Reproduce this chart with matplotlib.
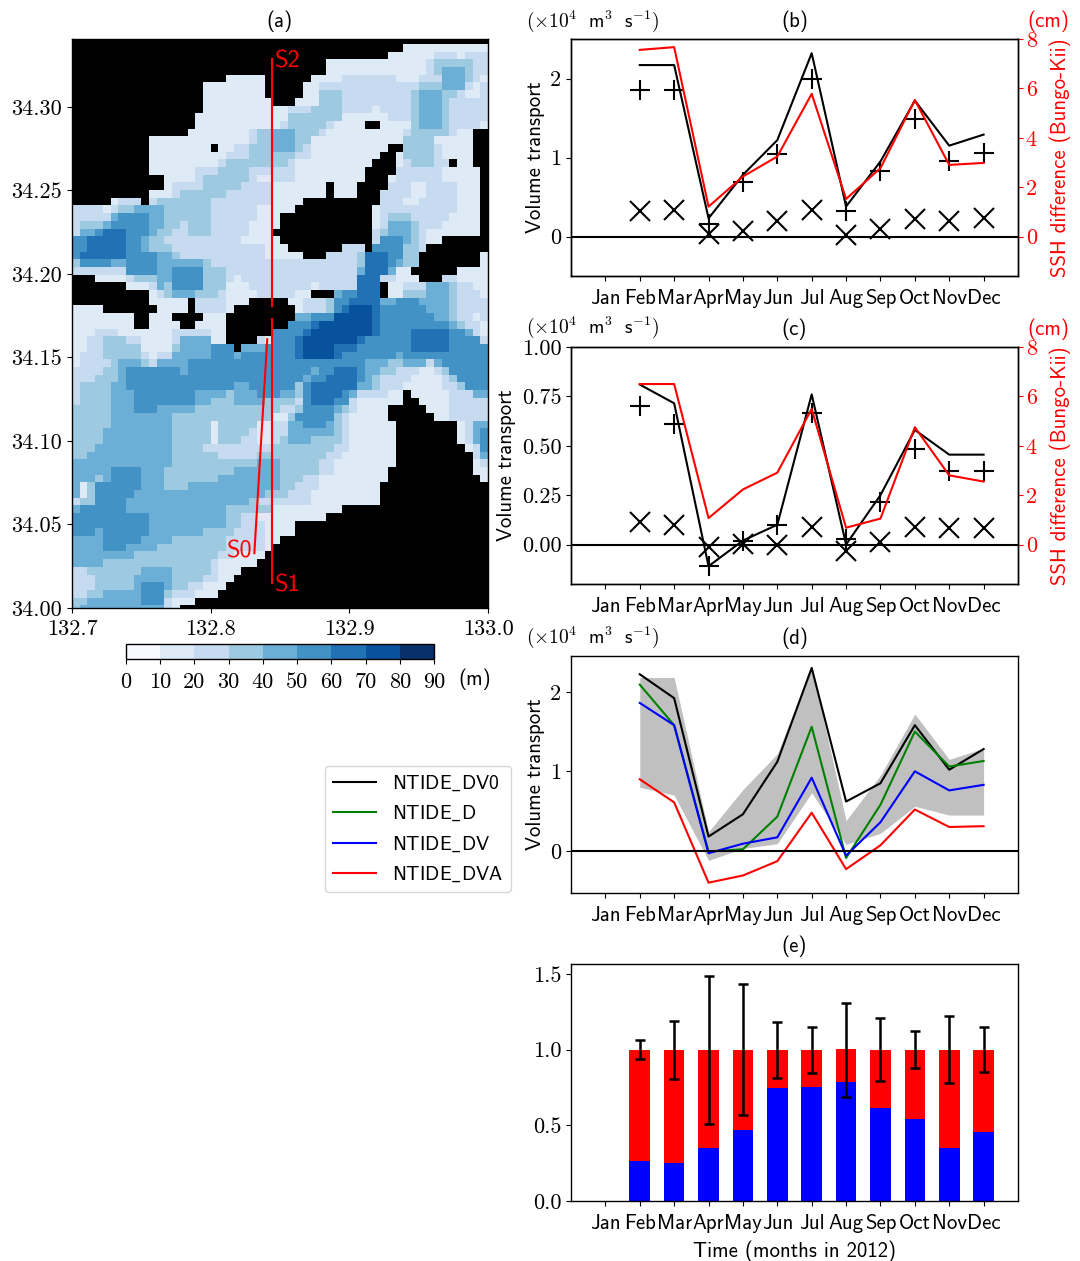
import warnings
import numpy as np
import matplotlib
matplotlib.use("Agg")
import matplotlib.pyplot as plt
from matplotlib.colors import BoundaryNorm
from matplotlib.lines import Line2D
warnings.filterwarnings("ignore")

months = ["Jan", "Feb", "Mar", "Apr", "May", "Jun", "Jul", "Aug", "Sep", "Oct", "Nov", "Dec"]
month_x = list(range(1, 13))
data_x = list(range(2, 13))

b_black = [2.17, 2.17, 0.23, 0.78, 1.22, 2.32, 0.38, 0.95, 1.72, 1.15, 1.29]
b_red = [7.56, 7.67, 1.21, 2.43, 3.24, 5.78, 1.52, 2.77, 5.53, 2.90, 2.98]
b_plus = [1.86, 1.85, 0.16, 0.69, 1.04, 2.00, 0.32, 0.83, 1.49, 0.96, 1.06]
b_cross = [0.32, 0.33, 0.03, 0.07, 0.19, 0.34, 0.02, 0.10, 0.22, 0.19, 0.23]

c_black = [0.81, 0.715, -0.11, 0.02, 0.10, 0.76, 0.0, 0.25, 0.58, 0.455, 0.455]
c_red = [6.5, 6.5, 1.07, 2.23, 2.91, 5.49, 0.68, 1.05, 4.75, 2.8, 2.55]
c_plus = [0.70, 0.61, -0.11, 0.02, 0.10, 0.665, 0.03, 0.215, 0.485, 0.37, 0.37]
c_cross = [0.115, 0.10, -0.015, 0.005, 0.0, 0.09, -0.035, 0.015, 0.09, 0.085, 0.085]

d_dv0 = [2.22, 1.92, 0.18, 0.46, 1.12, 2.30, 0.62, 0.85, 1.58, 1.02, 1.28]
d_d = [2.09, 1.58, -0.01, 0.02, 0.43, 1.56, -0.09, 0.58, 1.50, 1.06, 1.13]
d_dv = [1.86, 1.58, -0.03, 0.09, 0.17, 0.92, -0.06, 0.36, 1.00, 0.76, 0.83]
d_dva = [0.90, 0.61, -0.40, -0.31, -0.13, 0.48, -0.23, 0.07, 0.52, 0.30, 0.31]
d_upper = [2.18, 2.18, 0.24, 0.77, 1.22, 2.32, 0.38, 0.95, 1.72, 1.15, 1.29]
d_lower = [0.80, 0.70, -0.12, 0.03, 0.09, 0.73, 0.08, 0.22, 0.56, 0.45, 0.45]

e_blue = [0.265, 0.25, 0.35, 0.47, 0.745, 0.755, 0.785, 0.615, 0.545, 0.35, 0.455]
e_total = [1.0, 1.0, 1.0, 1.0, 1.0, 1.0, 1.005, 1.0, 1.0, 1.0, 1.0]
e_err_top = [1.065, 1.19, 1.49, 1.435, 1.185, 1.15, 1.31, 1.21, 1.125, 1.22, 1.15]
e_err_bot = [0.935, 0.805, 0.51, 0.565, 0.815, 0.845, 0.69, 0.79, 0.88, 0.78, 0.85]

depth_ticks = [0, 10, 20, 30, 40, 50, 60, 70, 80, 90]

# Depth class per grid row, north to south: "class:end_column"; class 0 is land, class n is n*10..n*10+10 m
bathy_rows = [
    "0:54", "0:43 1:54", "0:41 1:47 2:50 1:51 2:54", "0:33 1:46 2:47 3:52 2:54",
    "0:33 1:46 2:47 3:48 4:51 3:52 2:54",
    "0:20 1:25 0:31 1:35 2:42 1:45 2:48 4:51 3:52 2:53 1:54",
    "0:17 1:25 0:30 1:32 2:45 3:48 4:51 2:52 1:53 2:54",
    "0:17 1:25 0:30 1:32 3:35 2:44 3:45 4:48 3:50 2:51 1:53 2:54",
    "0:17 1:26 0:29 1:32 3:35 2:44 3:45 4:48 3:49 2:54",
    "0:17 1:28 2:31 3:35 2:39 1:40 2:44 3:45 4:48 3:49 2:54",
    "0:16 1:28 3:35 1:41 2:44 3:45 4:48 3:49 2:54",
    "0:16 1:27 2:28 3:33 2:34 1:38 0:40 1:44 3:45 4:48 3:49 2:53 1:54",
    "0:15 1:23 2:24 3:26 4:29 3:32 2:33 1:43 2:44 3:49 2:50 1:52 0:54",
    "0:10 1:23 2:24 3:26 4:29 3:31 1:43 3:47 1:52 0:54",
    "0:10 1:18 0:19 1:21 2:23 3:26 4:29 3:30 2:31 1:41 0:43 3:47 2:48 1:52 0:54",
    "0:10 1:20 2:23 3:29 2:31 1:40 0:42 1:43 3:47 2:48 1:52 0:54",
    "0:10 1:19 2:20 3:28 2:29 1:39 0:42 1:43 2:44 3:47 2:49 0:50 1:52 0:54",
    "0:10 1:16 2:19 3:23 2:29 1:38 0:42 2:48 1:53 0:54",
    "0:12 1:16 2:17 3:23 2:24 1:26 2:29 1:38 0:41 1:42 2:48 1:53 0:54",
    "0:12 1:13 2:17 3:22 2:26 1:33 0:34 1:37 0:41 2:44 1:46 2:50 1:53 0:54",
    "0:10 1:13 2:14 3:20 2:26 1:33 0:34 1:37 0:40 2:44 1:46 2:50 1:53 0:54",
    "0:5 1:6 2:9 0:10 2:11 3:18 2:26 1:30 0:40 2:43 1:45 2:50 1:53 0:54",
    "2:4 1:5 2:6 3:8 4:12 3:18 2:24 1:29 0:39 1:40 2:50 1:53 0:54",
    "2:5 4:6 5:10 4:12 3:18 2:24 1:27 0:39 1:40 2:41 3:44 2:49 1:53 0:54",
    "2:1 3:4 4:5 5:10 4:12 3:14 2:15 3:18 2:23 1:27 0:39 1:40 2:41 4:44 3:45 2:48 1:53 0:54",
    "2:1 4:3 5:4 6:7 5:10 4:11 3:13 2:15 3:18 2:23 1:26 0:39 2:40 3:41 4:44 3:45 2:46 1:53 0:54",
    "5:2 6:7 5:9 4:10 3:12 2:22 1:27 0:39 2:40 5:43 4:44 3:45 2:46 1:48 0:54",
    "5:2 6:7 5:9 4:10 3:13 2:25 1:28 0:35 2:38 0:39 5:43 3:45 2:46 0:54",
    "5:1 6:7 5:11 4:13 3:14 2:25 1:30 0:33 2:37 3:38 6:41 5:43 3:45 0:53 1:54",
    "3:1 5:5 4:7 5:11 4:17 3:18 2:37 3:38 6:41 5:42 4:43 3:45 0:53 1:54",
    "2:7 5:11 4:13 5:17 3:20 2:37 4:38 6:41 4:42 1:44 0:50 1:54",
    "0:3 1:7 2:8 3:11 4:13 5:17 3:20 2:21 1:22 2:37 6:40 2:42 1:45 0:48 2:50 1:54",
    "0:7 1:10 2:11 4:12 3:13 5:17 3:20 1:23 2:31 1:32 2:37 6:40 0:41 1:43 2:46 4:49 3:50 2:52 1:54",
    "0:10 1:11 2:12 3:13 4:16 3:19 2:20 1:24 2:29 1:31 0:34 4:35 5:37 6:40 0:41 1:43 3:46 4:49 3:50 2:53 1:54",
    "0:10 1:15 0:16 2:20 1:23 0:28 1:30 2:33 3:34 5:36 6:40 4:42 5:45 4:49 3:50 2:54",
    "1:4 0:11 1:15 0:16 2:20 1:21 0:29 1:30 2:33 3:34 5:35 6:36 7:39 6:40 5:46 4:49 3:50 2:54",
    "1:8 0:10 1:13 0:17 1:20 0:29 4:31 5:34 7:39 6:40 5:47 4:49 3:50 2:52 1:53 2:54",
    "1:8 0:10 1:14 0:16 1:20 0:28 5:31 6:32 7:39 6:40 5:49 4:50 3:51 2:53 1:54",
    "1:3 2:6 1:13 2:18 1:20 0:26 5:30 6:31 7:39 6:40 5:44 6:49 5:51 4:52 2:53 1:54",
    "1:2 2:4 3:7 2:9 1:13 2:14 4:18 1:20 0:24 2:25 1:26 5:29 6:30 7:37 6:38 5:44 6:49 5:53 2:54",
    "1:2 2:4 3:9 1:13 3:14 4:18 5:21 0:22 4:25 5:29 6:30 7:34 6:37 5:44 6:49 5:54",
    "1:1 2:4 3:9 2:10 1:11 2:13 4:18 5:21 4:22 5:29 6:30 7:34 6:35 5:42 4:43 5:54",
    "1:1 2:5 3:6 4:9 3:10 2:11 4:15 5:38 4:41 3:43 4:46 2:47 4:48 5:54",
    "2:4 3:6 4:7 5:14 4:15 5:31 4:32 5:34 6:37 5:38 4:40 3:42 2:45 1:47 2:48 3:49 5:54",
    "2:3 3:6 4:7 5:30 4:31 5:33 6:37 5:38 4:39 3:40 2:44 1:48 2:49 3:50 5:54",
    "2:1 3:5 4:7 5:21 4:23 5:29 3:30 5:31 6:37 4:39 3:40 2:43 1:48 2:50 3:51 5:54",
    "2:1 3:5 4:8 5:16 4:20 3:21 4:24 5:27 4:29 3:30 5:31 6:35 5:36 4:37 2:41 1:43 0:44 1:49 2:52 4:54",
    "2:1 3:5 4:8 5:16 4:18 3:21 4:25 3:29 2:30 5:31 6:34 5:36 2:37 1:43 0:45 1:49 2:54",
    "3:5 4:8 5:11 4:16 3:27 2:29 3:30 5:34 4:35 3:36 2:37 1:41 0:46 1:49 2:54",
    "3:5 4:13 3:26 1:28 3:29 5:34 3:35 2:36 1:41 0:47 1:49 2:54",
    "3:5 4:13 3:18 1:19 3:24 1:26 2:28 4:30 5:33 4:34 3:35 2:36 1:42 0:50 1:51 2:52 4:54",
    "3:4 4:13 3:18 1:19 3:23 2:24 1:26 2:28 4:34 3:35 2:36 1:42 0:50 1:51 2:52 4:53 5:54",
    "3:4 4:13 3:18 1:19 3:22 2:24 1:26 2:27 3:28 4:31 3:35 2:36 1:42 0:50 1:51 2:52 4:53 5:54",
    "3:3 4:13 3:17 2:26 3:34 2:36 1:42 0:51 1:52 2:53 5:54",
    "3:2 4:13 3:19 2:24 3:33 2:35 1:42 0:52 2:53 4:54",
    "4:13 3:24 4:27 3:32 2:34 1:42 0:52 1:53 2:54",
    "4:5 5:9 4:12 3:21 4:27 3:32 2:34 1:41 0:52 1:54",
    "4:3 3:4 4:5 5:9 4:12 3:19 4:27 3:30 2:32 1:41 0:53 1:54",
    "4:1 1:2 3:3 5:9 4:12 3:15 4:27 3:29 2:32 1:40 0:54",
    "4:1 1:2 3:3 5:8 4:25 3:28 2:31 1:40 0:54",
    "2:1 3:3 5:7 4:23 3:24 2:31 1:40 0:54",
    "4:1 5:7 4:20 3:26 1:35 0:54",
    "5:10 4:20 3:22 2:24 1:33 0:54",
    "5:10 4:20 3:22 2:25 1:29 0:54",
    "5:3 4:4 5:10 4:17 3:21 2:25 1:29 0:54",
    "4:4 5:9 4:13 3:20 2:25 1:27 0:54",
    "4:4 5:7 4:11 3:20 2:25 1:26 0:54",
    "4:8 3:19 2:21 1:25 0:54",
    "4:4 3:18 2:19 1:24 0:54",
    "2:2 3:9 4:13 3:18 2:19 1:22 0:54",
    "2:3 3:8 4:13 3:17 2:19 1:21 0:54",
    "2:3 3:8 4:9 5:12 4:13 3:15 2:17 1:20 0:54",
    "2:2 3:4 4:9 5:12 3:13 2:16 1:19 0:54",
    "3:2 4:9 5:12 2:13 1:16 0:54",
    "3:1 4:12 2:13 1:14 0:54",
]

section_s1s2_north = ([132.8444, 132.8444], [34.329, 34.181])
section_s1s2_south = ([132.8444, 132.8444], [34.173, 34.0148])
section_s0 = ([132.8408, 132.8315], [34.1609, 34.0328])

W, H = 1080, 1261
SS = "cmss10"
RM = "cmr10"
plt.rcParams.update({
    "font.family": [SS, "DejaVu Sans"],
    "mathtext.fontset": "cm",
    "axes.unicode_minus": False,
    "axes.linewidth": 1.0,
    "axes.formatter.use_mathtext": False,
})
TICK = 16
LAB = 15
TITLE_PAD = 8.5


def place(left, top, right, bottom):
    return fig.add_axes([left / W, 1 - bottom / H, (right - left) / W, (bottom - top) / H])


def depth_grid(rows):
    grid = []
    for row in rows:
        cells, start = [], 0
        for token in row.split():
            cls, end = token.split(":")
            cls, end = int(cls), int(end)
            cells += [np.nan if cls == 0 else cls * 10 + 5] * (end - start)
            start = end
        grid.append(cells)
    return np.ma.masked_invalid(np.array(grid, dtype=float))


def month_axis(ax, ylim):
    ax.set_xlim(0, 13)
    ax.set_ylim(*ylim)
    ax.set_xticks(month_x)
    ax.set_xticklabels(months, fontsize=LAB, family=SS)
    ax.tick_params(axis="x", pad=6)
    ax.tick_params(axis="y", labelsize=TICK, labelfontfamily=RM)


def unit_label(ax_y):
    fig.text(526 / W, 1 - ax_y / H, r"$(\times 10^{4}\ \ \mathsf{m}^{3}\ \ \mathsf{s}^{-1})$",
             fontsize=14, ha="left", va="center")


def ssh_axis(ax, values, ax_y):
    tw = ax.twinx()
    tw.plot(data_x, values, color="red", lw=1.5)
    tw.set_ylim(-1.6, 8)
    tw.set_yticks([0, 2, 4, 6, 8])
    tw.tick_params(axis="y", colors="red", labelsize=TICK, labelfontfamily=RM, pad=2)
    tw.set_ylabel("SSH difference (Bungo-Kii)", color="red", fontsize=LAB, labelpad=9)
    fig.text(1048 / W, 1 - ax_y / H, "(cm)", color="red", fontsize=LAB, ha="center", va="center")


fig = plt.figure(figsize=(W / 100, H / 100), dpi=100)

# (a)
ax = place(72, 39, 488, 608)
ax.set_facecolor("black")
grid = depth_grid(bathy_rows)
lon_edges = np.linspace(132.7, 133.0, grid.shape[1] + 1)
lat_edges = np.linspace(34.3423, 33.997, grid.shape[0] + 1)
cmap = plt.get_cmap("Blues", 9)
norm = BoundaryNorm(depth_ticks, 9)
mesh = ax.pcolormesh(lon_edges, lat_edges, grid, cmap=cmap, norm=norm)
for seg in (section_s1s2_north, section_s1s2_south, section_s0):
    ax.plot(seg[0], seg[1], color="red", lw=1.5)
ax.set_xlim(132.7, 133.0)
ax.set_ylim(34.0, 34.3407)
ax.set_xticks([132.7, 132.8, 132.9, 133.0])
ax.set_xticklabels(["132.7", "132.8", "132.9", "133.0"])
ax.set_yticks([34.0, 34.05, 34.1, 34.15, 34.2, 34.25, 34.3])
ax.set_yticklabels(["34.00", "34.05", "34.10", "34.15", "34.20", "34.25", "34.30"])
ax.tick_params(labelsize=TICK, labelfontfamily=RM)
ax.tick_params(axis="x", pad=5)
ax.set_title("(a)", fontsize=LAB, pad=TITLE_PAD)
ax.text(132.8465, 34.3273, "S2", color="red", fontsize=17.5, ha="left", va="center")
ax.text(132.8465, 34.0135, "S1", color="red", fontsize=17.5, ha="left", va="center")
ax.text(132.8300, 34.0340, "S0", color="red", fontsize=17.5, ha="right", va="center")

cax = place(126, 644, 434, 659)
cb = fig.colorbar(mesh, cax=cax, orientation="horizontal", ticks=depth_ticks)
cb.ax.tick_params(labelsize=TICK, labelfontfamily=RM, pad=6)
fig.text(475 / W, 1 - 679 / H, "(m)", fontsize=LAB, ha="center", va="center")

# (b)
ax = place(571, 39, 1018, 276)
ax.plot(data_x, b_black, color="black", lw=1.5)
ax.plot(data_x, b_plus, ls="none", marker="+", color="black", ms=14, mew=1.5)
ax.plot(data_x, b_cross, ls="none", marker="x", color="black", ms=14, mew=1.5)
ax.axhline(0, color="black", lw=1.5)
month_axis(ax, (-0.5, 2.5))
ax.set_yticks([0, 1, 2])
ax.set_ylabel("Volume transport", fontsize=LAB)
ax.set_title("(b)", fontsize=LAB, pad=TITLE_PAD)
unit_label(21)
ssh_axis(ax, b_red, 21)

# (c)
ax = place(571, 347, 1018, 584)
ax.plot(data_x, c_black, color="black", lw=1.5)
ax.plot(data_x, c_plus, ls="none", marker="+", color="black", ms=14, mew=1.5)
ax.plot(data_x, c_cross, ls="none", marker="x", color="black", ms=14, mew=1.5)
ax.axhline(0, color="black", lw=1.5)
month_axis(ax, (-0.2, 1.0))
ax.set_yticks([0, 0.25, 0.5, 0.75, 1.0])
ax.set_yticklabels(["0.00", "0.25", "0.50", "0.75", "1.00"])
ax.set_ylabel("Volume transport", fontsize=LAB)
ax.set_title("(c)", fontsize=LAB, pad=TITLE_PAD)
unit_label(327)
ssh_axis(ax, c_red, 329)

# (d)
ax = place(571, 656, 1018, 893)
ax.fill_between(data_x, d_lower, d_upper, color="silver", lw=0)
line_colors = ["black", "green", "blue", "red"]
line_names = [r"NTIDE$\_$DV0", r"NTIDE$\_$D", r"NTIDE$\_$DV", r"NTIDE$\_$DVA"]
for vals, col in zip([d_dv0, d_d, d_dv, d_dva], line_colors):
    ax.plot(data_x, vals, color=col, lw=1.5)
ax.axhline(0, color="black", lw=1.5)
month_axis(ax, (-0.53, 2.45))
ax.set_yticks([0, 1, 2])
ax.set_ylabel("Volume transport", fontsize=LAB)
ax.set_title("(d)", fontsize=LAB, pad=TITLE_PAD)
unit_label(637)

handles = [Line2D([], [], color=c, lw=1.5) for c in line_colors]
fig.legend(handles, line_names, loc="lower left",
           bbox_to_anchor=(325 / W, 1 - 892 / H), borderaxespad=0,
           fontsize=14.2, labelspacing=0.55, handlelength=2.2)

# (e)
ax = place(571, 964, 1018, 1201)
e_red = [t - b for t, b in zip(e_total, e_blue)]
ax.bar(data_x, e_blue, width=0.6, color="blue")
ax.bar(data_x, e_red, width=0.6, bottom=e_blue, color="red")
err_low = [t - l for t, l in zip(e_total, e_err_bot)]
err_up = [u - t for t, u in zip(e_total, e_err_top)]
ax.errorbar(data_x, e_total, yerr=[err_low, err_up], fmt="none", ecolor="black",
            elinewidth=1.8, capsize=3.5, capthick=1.8)
month_axis(ax, (0, 1.566))
ax.set_yticks([0, 0.5, 1.0, 1.5])
ax.set_title("(e)", fontsize=LAB, pad=TITLE_PAD)
ax.set_xlabel("Time (months in 2012)", fontsize=LAB, labelpad=5)

fig.savefig("out.png", dpi=100)
